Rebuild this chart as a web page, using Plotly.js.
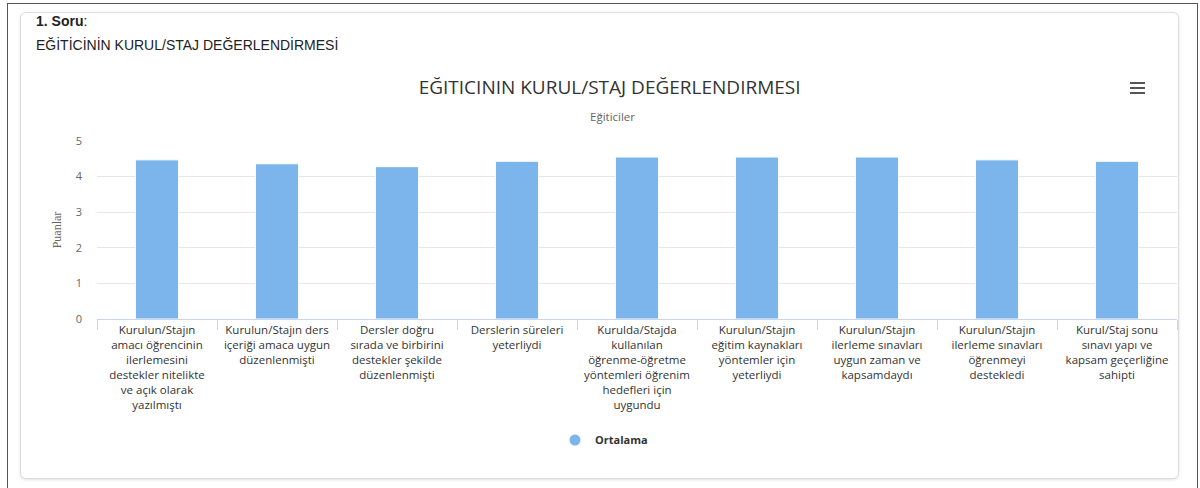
<!DOCTYPE html>
<html>
<head>
<meta charset="utf-8">
<script src="https://cdn.plot.ly/plotly-3.0.1.min.js"></script>
<style>
  html, body { margin:0; padding:0; background:#fff; width:1200px; height:488px; overflow:hidden; }
  #frame { position:absolute; left:7px; top:3px; width:1189px; height:500px; border:1px solid #555; border-bottom:none; }
  #card { position:absolute; left:20px; top:12px; width:1157px; height:465px; border:1px solid #ddd; border-radius:6px; box-shadow:0 1px 3px rgba(0,0,0,0.12); background:#fff; }
  #h1 { position:absolute; left:36px; top:13px; font:bold 14px "Liberation Sans", Arial, sans-serif; color:#222; }
  #h2 { position:absolute; left:36px; top:37px; font:14px "Liberation Sans", Arial, sans-serif; color:#222; }
  #menu { position:absolute; left:1130px; top:82px; width:15px; }
  #menu div { height:2px; background:#555; margin-bottom:3px; }
  #chart { position:absolute; left:0; top:0; width:1200px; height:488px; }
</style>
</head>
<body>
<div id="frame"></div>
<div id="card"></div>
<div id="h1">1. Soru<span style="font-weight:normal">:</span></div>
<div id="h2">EĞİTİCİNİN KURUL/STAJ DEĞERLENDİRMESİ</div>
<div id="chart"></div>
<div id="menu"><div></div><div></div><div></div></div>
<script>
const categories = [
  "Kurulun/Stajın<br>amacı öğrencinin<br>ilerlemesini<br>destekler nitelikte<br>ve açık olarak<br>yazılmıştı",
  "Kurulun/Stajın ders<br>içeriği amaca uygun<br>düzenlenmişti",
  "Dersler doğru<br>sırada ve birbirini<br>destekler şekilde<br>düzenlenmişti",
  "Derslerin süreleri<br>yeterliydi",
  "Kurulda/Stajda<br>kullanılan<br>öğrenme-öğretme<br>yöntemleri öğrenim<br>hedefleri için<br>uygundu",
  "Kurulun/Stajın<br>eğitim kaynakları<br>yöntemler için<br>yeterliydi",
  "Kurulun/Stajın<br>ilerleme sınavları<br>uygun zaman ve<br>kapsamdaydı",
  "Kurulun/Stajın<br>ilerleme sınavları<br>öğrenmeyi<br>destekledi",
  "Kurul/Staj sonu<br>sınavı yapı ve<br>kapsam geçerliğine<br>sahipti"
];
const ortalama = [4.47, 4.36, 4.28, 4.43, 4.55, 4.55, 4.55, 4.47, 4.43];
const seriesName = "Ortalama";
const chartTitle = "EĞITICININ KURUL/STAJ DEĞERLENDIRMESI";
const subTitle = "Eğiticiler";
const yTitle = "Puanlar";
const yTicks = [0, 1, 2, 3, 4, 5];

const color = "#7cb5ec";
const font = '"Open Sans", "DejaVu Sans", sans-serif';

const traces = [
  {
    type: "bar",
    x: categories,
    y: ortalama,
    name: seriesName,
    showlegend: false,
    marker: { color: color, line: { color: "#ffffff", width: 1 } },
    hoverinfo: "y"
  },
  {
    type: "scatter",
    mode: "markers",
    x: [null],
    y: [null],
    name: seriesName,
    marker: { color: color, size: 11, symbol: "circle" },
    showlegend: true
  }
];

const layout = {
  width: 1200,
  height: 488,
  paper_bgcolor: "rgba(0,0,0,0)",
  plot_bgcolor: "rgba(0,0,0,0)",
  margin: { l: 97, r: 23, t: 141, b: 169 },
  font: { family: font, color: "#333" },
  title: {
    text: chartTitle,
    x: 0.508, xanchor: "center", xref: "container",
    y: 1 - 87/488, yanchor: "middle", yref: "container",
    font: { family: font, size: 19, color: "#333" }
  },
  annotations: [{
    text: subTitle, xref: "paper", yref: "paper",
    x: (612 - 97) / 1080, y: (319 - 116) / 178,
    xanchor: "center", yanchor: "middle", showarrow: false,
    font: { family: font, size: 11.5, color: "#666" }
  }],
  bargap: 0.64,
  xaxis: {
    type: "category",
    showgrid: false,
    showline: true, linecolor: "#ccd6eb", linewidth: 1,
    ticks: "outside", tickson: "boundaries", ticklen: 10, tickcolor: "#ccd6eb",
    tickfont: { family: font, size: 11.5, color: "#333" },
    tickangle: 0,
    automargin: false,
    fixedrange: true
  },
  yaxis: {
    range: [0, 5],
    tickvals: yTicks,
    showgrid: true, gridcolor: "#e6e6e6", gridwidth: 1,
    zeroline: false,
    showline: false,
    ticks: "",
    ticklabelstandoff: 14,
    tickfont: { family: font, size: 11, color: "#666" },
    title: { text: yTitle, font: { family: '"Liberation Serif", serif', size: 12, color: "#666" }, standoff: 11 },
    automargin: false,
    fixedrange: true
  },
  showlegend: true,
  legend: {
    orientation: "h",
    x: (604 - 97) / 1080, xanchor: "center",
    y: (319 - 440) / 178, yanchor: "middle",
    itemwidth: 30,
    font: { family: font, size: 11, color: "#333", weight: "bold" },
    bgcolor: "rgba(0,0,0,0)"
  }
};

Plotly.newPlot("chart", traces, layout, { displayModeBar: false, staticPlot: true });
</script>
</body>
</html>
